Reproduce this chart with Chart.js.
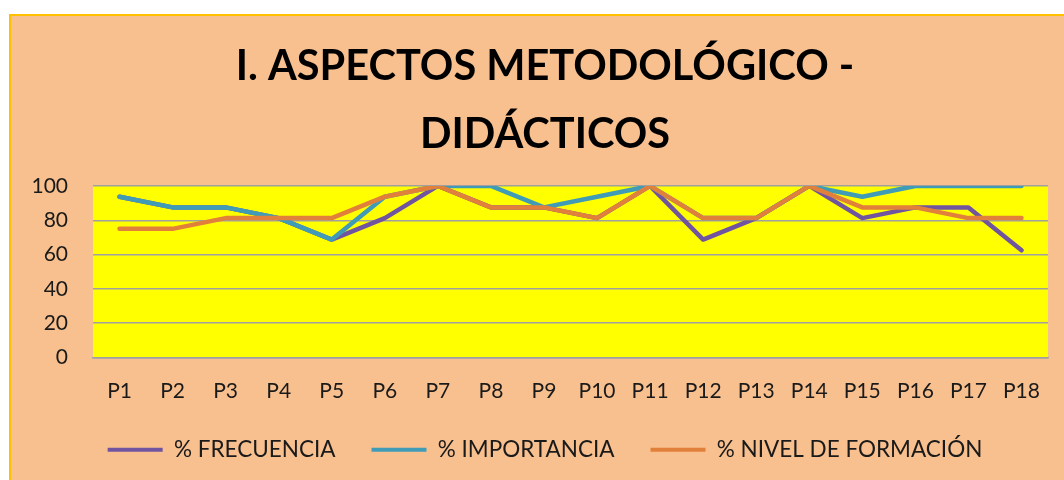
<!DOCTYPE html>
<html>
<head>
<meta charset="utf-8">
<script src="https://cdn.jsdelivr.net/npm/chart.js@4"></script>
<style>
    html, body { margin: 0; padding: 0; background: #ffffff; overflow: hidden; }
    #box {
        position: absolute; left: 9px; top: 14px;
        width: 1068px; height: 466px;
        border-left: 2px solid #FFC000; border-top: 2px solid #FFC000;
        background: #F9C08F;
    }
    #chart { display: block; }
</style>
</head>
<body>
<div id="box"><canvas id="chart" width="1068" height="466"></canvas></div>
<script>
// categorias
const labels = ['P1', 'P2', 'P3', 'P4', 'P5', 'P6', 'P7', 'P8', 'P9', 'P10', 'P11', 'P12', 'P13', 'P14', 'P15', 'P16', 'P17', 'P18'];

// series (%)
const frecuencia = [93.75, 87.5, 87.5, 81.25, 68.75, 81.25, 100, 87.5, 87.5, 81.25, 100, 68.75, 81.25, 100, 81.25, 87.5, 87.5, 62.5];
const importancia = [93.75, 87.5, 87.5, 81.25, 68.75, 93.75, 100, 100, 87.5, 93.75, 100, 81.25, 81.25, 100, 93.75, 100, 100, 100];
const nivel = [75, 75, 81.25, 81.25, 81.25, 93.75, 100, 87.5, 87.5, 81.25, 100, 81.25, 81.25, 100, 87.5, 87.5, 81.25, 81.25];

const seriesNames = ['% FRECUENCIA', '% IMPORTANCIA', '% NIVEL DE FORMACIÓN'];
const yTicks = [0, 20, 40, 60, 80, 100];
const titleLines = ['I. ASPECTOS METODOLÓGICO -', 'DIDÁCTICOS'];

const colors = ['#7054A0', '#409CB6', '#E0803B'];

// fondo amarillo del area de trazado
const plotBg = {
    id: 'plotBg',
    beforeDraw(chart) {
        const a = chart.chartArea;
        const ctx = chart.ctx;
        ctx.save();
        ctx.fillStyle = '#FFFF00';
        ctx.fillRect(a.left, a.top, a.right - a.left, a.bottom - a.top);
        ctx.restore();
    }
};

function mkSet(name, data, i) {
    return {
        label: name,
        data: data,
        borderColor: colors[i],
        backgroundColor: colors[i],
        borderWidth: 4.5,
        pointRadius: 0,
        tension: 0,
        borderJoinStyle: 'round',
        borderCapStyle: 'round',
        order: 3 - i
    };
}

// no recortar las etiquetas de los ejes
function noClip(scale) { scale._computeLabelArea = () => undefined; }

const ctx = document.getElementById('chart').getContext('2d');

new Chart(ctx, {
    type: 'line',
    data: {
        labels: labels,
        datasets: [
            mkSet(seriesNames[0], frecuencia, 0),
            mkSet(seriesNames[1], importancia, 1),
            mkSet(seriesNames[2], nivel, 2)
        ]
    },
    options: {
        responsive: false,
        animation: false,
        layout: { padding: { left: 31, right: 31, top: 0, bottom: 11 } },
        plugins: {
            tooltip: { enabled: false },
            title: {
                display: true,
                text: titleLines,
                color: '#000000',
                font: { family: 'Lato', size: 41.5, weight: 'bold', lineHeight: 1.65 },
                padding: { top: 16, bottom: 17 }
            },
            legend: {
                position: 'bottom',
                labels: {
                    color: '#1a1a1a',
                    font: { family: 'Lato', size: 22.5 },
                    boxWidth: 55,
                    boxHeight: 4,
                    padding: 36,
                    generateLabels(chart) {
                        const items = Chart.defaults.plugins.legend.labels.generateLabels(chart);
                        items.sort((a, b) => a.datasetIndex - b.datasetIndex);
                        items.forEach((it) => { it.lineWidth = 0; });
                        return items;
                    }
                }
            }
        },
        scales: {
            x: {
                offset: true,
                grid: { display: false, drawTicks: false },
                border: { display: true, color: '#a0a0a0', width: 1.5 },
                ticks: {
                    color: '#1a1a1a',
                    font: { family: 'Lato', size: 21 },
                    padding: 21,
                    maxRotation: 0,
                    autoSkip: false
                },
                afterFit(scale) { scale.height = 45; noClip(scale); }
            },
            y: {
                min: 0,
                max: 100,
                afterBuildTicks(scale) { scale.ticks = yTicks.map((v) => ({ value: v })); },
                grid: { color: '#a0a0a0', lineWidth: 1.5, drawTicks: false },
                border: { display: false },
                ticks: {
                    color: '#1a1a1a',
                    font: { family: 'Lato', size: 21 },
                    padding: 25
                },
                afterFit(scale) { scale.width = 51; noClip(scale); }
            }
        }
    },
    plugins: [plotBg]
});
</script>
</body>
</html>
